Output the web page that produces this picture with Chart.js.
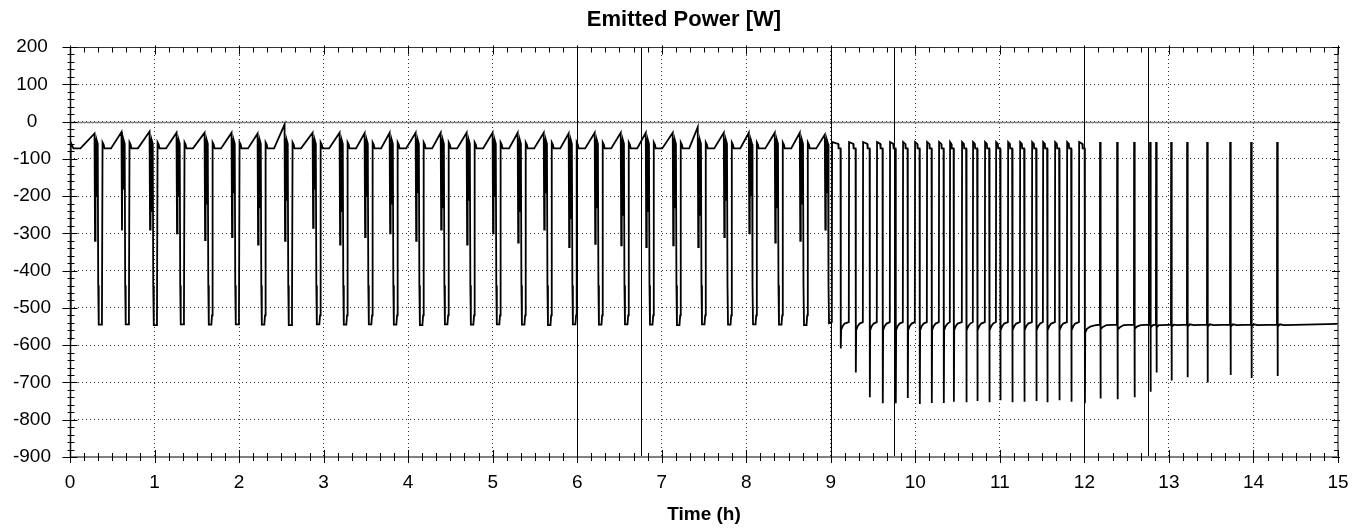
<!DOCTYPE html>
<html><head><meta charset="utf-8">
<script src="https://cdn.jsdelivr.net/npm/chart.js@4.4.1/dist/chart.umd.min.js"></script>
<style>html,body{margin:0;padding:0;background:#fff}#wrap{width:1368px;height:530px}</style>
</head><body><div id="wrap"><canvas id="c" width="1368" height="530"></canvas></div>
<script>
// ---------- text ----------
const chartTitle = 'Emitted Power [W]';
const xAxisTitle = 'Time (h)';
// ---------- axes ----------
const xTickValues = [0,1,2,3,4,5,6,7,8,9,10,11,12,13,14,15];
const yTickValues = [200,100,0,-100,-200,-300,-400,-500,-600,-700,-800,-900];
const markerTimes = [6, 6.75, 9, 9.75, 12, 12.75];

// ---------- phase 1 (0–9 h): ramp / spike cycles ----------
const p1StartTime  = [0, 0.008, 0.04, 0.124];
const p1StartValue = [-585, -56, -72, -72];
const p1PeakTime  = [0.290,0.609,0.941,1.260,1.592,1.911,2.219,2.538,2.870,3.189,3.485,3.781,4.089,4.385,4.692,4.999,5.296,5.604,5.899,6.207,6.515,6.811,7.130,7.426,7.734,8.030,8.337,8.633,8.929];
const p1PeakValue = [-32,-28,-27,-30,-30,-30,-32,-8,-30,-30,-31,-30,-30,-30,-30,-30,-30,-30,-32,-30,-30,-30,-30,-15,-30,-30,-30,-30,-35];
const p1Dip1      = [-320,-292,-290,-300,-318,-310,-330,-320,-285,-330,-310,-300,-320,-290,-330,-300,-325,-290,-337,-328,-332,-337,-332,-337,-310,-300,-325,-320,-290];
const p1Dip2      = [-200,-180,-240,-200,-220,-190,-230,-210,-180,-240,-200,-220,-190,-230,-210,-200,-240,-190,-260,-230,-250,-240,-230,-250,-210,-200,-230,-220,-190];
const p1Bottom    = [-545,-544,-546,-544,-545,-544,-545,-546,-544,-545,-544,-545,-546,-544,-545,-544,-545,-546,-544,-545,-544,-545,-546,-544,-545,-544,-545,-546,-541];
// shape of one cycle after its peak: time offsets (h) and the levels (W)
const p1Offset = [0, 0.006, 0.012, 0.020, 0.026, 0.038, 0.044, 0.050, 0.080, 0.088, 0.095, 0.108, 0.118, 0.195];
const p1Level  = [null, null, -45, null, -50, -60, -440, null, null, -520, -56, -62, -72, -72];

// ---------- phase 2 (9–12 h): fast cycles ----------
const p2Rise   = [9.012,9.213,9.379,9.544,9.698,9.852,9.994,10.136,10.278,10.408,10.550,10.680,10.822,10.953,11.095,11.237,11.379,11.509,11.651,11.793,11.935];
const p2Drop   = [9.118,9.296,9.462,9.615,9.769,9.911,10.053,10.195,10.337,10.456,10.604,10.734,10.876,11.006,11.148,11.290,11.432,11.562,11.704,11.846,12.006];
const p2Bottom = [-609,-673,-740,-756,-756,-742,-758,-755,-755,-752,-753,-750,-753,-748,-753,-752,-750,-753,-748,-752,-756];

// ---------- phase 3 (12–15 h): steady level with isolated events ----------
const p3Event  = [12.183,12.385,12.586,12.775,12.846,13.024,13.213,13.450,13.722,13.970,14.278];
const p3Bottom = [-743,-745,-740,-725,-673,-695,-686,-700,-680,-688,-683];
const p3After  = [-557,-558,-556,-552,-552,-551,-550,-550,-550,-550,-550];
const p3Base   = -545;
const p3End    = -543;

function buildSeries() {
  const pts = [];
  const add = (t, v) => { if (!pts.length || t > pts[pts.length-1].x) pts.push({x: t, y: v}); };
  for (let i = 0; i < p1StartTime.length; i++) add(p1StartTime[i], p1StartValue[i]);
  for (let k = 0; k < p1PeakTime.length; k++) {
    const P = p1PeakTime[k];
    for (let j = 0; j < p1Offset.length; j++) {
      const t = P + p1Offset[j];
      if (t >= p2Rise[0] - 0.004) break;
      let v = p1Level[j];
      if (j === 0) v = p1PeakValue[k];
      else if (j === 1) v = p1Dip1[k];
      else if (j === 3) v = p1Dip2[k];
      else if (j === 7 || j === 8) v = p1Bottom[k];
      add(t, v);
    }
  }
  for (let i = 0; i < p2Rise.length; i++) {
    const T = p2Rise[i], D = p2Drop[i], B = p2Bottom[i];
    add(T, -538); add(T + 0.003, -55); add(D - 0.03, -60); add(D - 0.026, -72); add(D - 0.003, -72);
    add(D, B); add(D + 0.004, i === p2Rise.length - 1 ? -566 : -560);
    if (i < p2Rise.length - 1) { add(D + 0.02, -550); add(D + 0.045, -542); }
  }
  add(12.03, -556); add(12.07, -550); add(12.12, -547);
  for (let i = 0; i < p3Event.length; i++) {
    const E = p3Event[i], nxt = i < p3Event.length - 1 ? p3Event[i+1] : 15;
    const a = p3After[i];
    add(E, p3Base); add(E + 0.002, -55); add(E + 0.006, -58); add(E + 0.009, p3Bottom[i]); add(E + 0.012, a);
    if (E + 0.035 < nxt - 0.003) add(E + 0.035, a + 6);
    if (E + 0.08 < nxt - 0.003) add(E + 0.08, p3Base - 1);
  }
  add(15, p3End);
  return pts;
}

const FONT = 'Arial, "Liberation Sans", sans-serif';

const framePlugin = {
  id: 'frame',
  beforeDatasetsDraw(chart) {
    const {ctx, chartArea: a, scales: {x, y}} = chart;
    ctx.save();
    const y0 = Math.round(y.getPixelForValue(0)) + 0.5;
    ctx.strokeStyle = '#808080'; ctx.lineWidth = 1.5;
    ctx.beginPath(); ctx.moveTo(a.left, y0); ctx.lineTo(a.right, y0); ctx.stroke();
    ctx.strokeStyle = '#000'; ctx.lineWidth = 1;
    markerTimes.forEach(t => {
      const px = Math.round(x.getPixelForValue(t)) + 0.5;
      ctx.beginPath(); ctx.moveTo(px, a.top); ctx.lineTo(px, a.bottom); ctx.stroke();
    });
    ctx.restore();
  },
  afterDatasetsDraw(chart) {
    const {ctx, chartArea: a, scales: {x, y}} = chart;
    ctx.save();
    const L = Math.round(a.left) + 0.5, R = Math.round(a.right), T = Math.round(a.top) + 0.5, B = Math.round(a.bottom);
    ctx.lineWidth = 1; ctx.strokeStyle = '#333';
    ctx.beginPath(); ctx.moveTo(L, T); ctx.lineTo(R, T); ctx.stroke();
    ctx.lineWidth = 2; ctx.strokeStyle = '#808080';
    ctx.beginPath(); ctx.moveTo(L, B); ctx.lineTo(R, B); ctx.lineTo(R, T); ctx.stroke();
    ctx.lineWidth = 1.5; ctx.strokeStyle = '#111';
    ctx.beginPath(); ctx.moveTo(L, T); ctx.lineTo(L, B); ctx.stroke();
    ctx.strokeStyle = '#000'; ctx.lineWidth = 1;
    const line = (x1, y1, x2, y2) => { ctx.beginPath(); ctx.moveTo(x1, y1); ctx.lineTo(x2, y2); ctx.stroke(); };
    const yMin = y.min, yMax = y.max;
    for (let i = 0; i <= Math.round((yMax - yMin) / 20); i++) {
      const v = yMin + i * 20;
      const py = Math.round(y.getPixelForValue(v)) + 0.5;
      const major = (v % 100) === 0;
      if (major) { line(L - 8, py, L + 7, py); line(R - 6, py, R + 2, py); }
      else { line(L - 3, py, L + 4, py); line(R - 4, py, R, py); }
    }
    for (let i = 0; i <= Math.round((x.max - x.min) * 6); i++) {
      const v = x.min + i / 6;
      const px = Math.round(x.getPixelForValue(v)) + 0.5;
      const major = (i % 6) === 0;
      if (major) { line(px, B - 7, px, B + 6); line(px, T - 2, px, T + 7); }
      else { line(px, B - 4, px, B + 4); line(px, T, px, T + 5); }
    }
    ctx.restore();
  }
};

new Chart(document.getElementById('c'), {
  type: 'line',
  data: { datasets: [{
    data: buildSeries(),
    borderColor: '#000', borderWidth: 1.8, pointRadius: 0, tension: 0, fill: false
  }]},
  options: {
    responsive: false, animation: false, devicePixelRatio: 1,
    layout: { padding: 0 },
    plugins: {
      legend: { display: false }, tooltip: { enabled: false },
      title: { display: true, text: chartTitle, color: '#000',
        font: { family: FONT, size: 22, weight: 'bold' }, padding: { top: 7, bottom: 13.6 } }
    },
    scales: {
      x: {
        type: 'linear', min: 0, max: 15,
        afterBuildTicks: s => { s.ticks = xTickValues.map(v => ({value: v})); },
        afterFit: s => { s.height = 73; },
        ticks: { color: '#000', font: { family: FONT, size: 19 }, padding: 14, maxRotation: 0, autoSkip: false },
        grid: { color: 'rgba(0,0,0,0.8)', lineWidth: 1, drawTicks: false },
        border: { display: false, dash: [1, 3] },
        title: { display: true, text: xAxisTitle, color: '#000', font: { family: FONT, size: 19, weight: 'bold' }, padding: { top: 0, bottom: 4 } }
      },
      y: {
        type: 'linear', min: -900, max: 200,
        afterBuildTicks: s => { s.ticks = yTickValues.map(v => ({value: v})); },
        afterFit: s => { s.width = 70; },
        ticks: { color: '#000', font: { family: FONT, size: 19 }, padding: 19, crossAlign: 'center', autoSkip: false },
        grid: { color: 'rgba(0,0,0,0.8)', lineWidth: 1, drawTicks: false },
        border: { display: false, dash: [1, 3] }
      },
      yRight: {
        type: 'linear', position: 'right', min: -900, max: 200,
        afterFit: s => { s.width = 30; },
        ticks: { display: false },
        grid: { display: false, drawTicks: false },
        border: { display: false }
      }
    }
  },
  plugins: [framePlugin]
});
</script></body></html>
